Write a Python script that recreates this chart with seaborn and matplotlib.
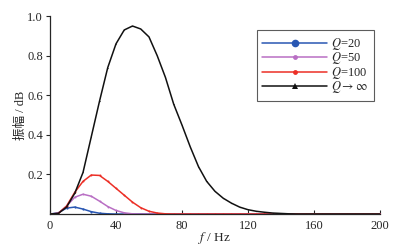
import numpy as np
import pandas as pd
import seaborn as sns
import matplotlib.pyplot as plt

# frequency axis (Hz), values every 5 Hz
freq = list(range(0, 205, 5))

amp_q20 = [0, 0.006, 0.03, 0.035, 0.025, 0.012, 0.004, 0.001] + [0] * 33
amp_q50 = [0, 0.004, 0.04, 0.085, 0.1, 0.09, 0.065, 0.038, 0.018, 0.006, 0.001] + [0] * 30
amp_q100 = [0, 0.003, 0.04, 0.11, 0.165, 0.197, 0.195, 0.165, 0.13, 0.095, 0.06,
            0.032, 0.014, 0.005, 0.001] + [0] * 26
amp_qinf = [0, 0.003, 0.035, 0.105, 0.21, 0.39, 0.57, 0.74, 0.86, 0.93, 0.95,
            0.935, 0.895, 0.80, 0.69, 0.555, 0.45, 0.34, 0.24, 0.165, 0.115,
            0.08, 0.055, 0.035, 0.022, 0.014, 0.009, 0.005, 0.003, 0.001] + [0] * 11

labels = [r"$Q$=20", r"$Q$=50", r"$Q$=100", r"$Q$$\rightarrow\infty$"]
series = [amp_q20, amp_q50, amp_q100, amp_qinf]
colors = ["#2957b3", "#b96fc4", "#ec2f26", "#111111"]
markers = ["o", "o", "o", "^"]
msizes = [1.6, 1.4, 1.4, 0.8]
legend_ms = [5.5, 3.5, 3.5, 4]

sns.set_style("ticks")
plt.rcParams['font.family'] = ['Liberation Serif', 'Noto Sans CJK SC']
plt.rcParams['mathtext.fontset'] = 'stix'

fig = plt.figure(figsize=(3.94, 2.48), dpi=100)
ax = fig.add_axes([0.127, 0.137, 0.837, 0.798])

for lab, vals, c, m, ms in zip(labels, series, colors, markers, msizes):
    df = pd.DataFrame({'f': freq, 'amp': vals})
    sns.lineplot(data=df, x='f', y='amp', ax=ax, color=c, lw=1.1,
                 marker=m, markersize=ms, markeredgewidth=0, markevery=1,
                 label=lab)

ax.set_xlim(0, 200)
ax.set_ylim(0, 1.0)
ax.set_xticks([0, 40, 80, 120, 160, 200])
ax.set_yticks([0.2, 0.4, 0.6, 0.8, 1.0])
ax.set_yticklabels(["0.2", "0.4", "0.6", "0.8", "1.0"])
ax.tick_params(axis='x', direction='in', length=3, width=0.8, labelsize=9, pad=4)
ax.tick_params(axis='y', direction='out', length=3, width=0.8, labelsize=9, pad=2)
for s in ['top', 'right']:
    ax.spines[s].set_visible(False)
for s in ['left', 'bottom']:
    ax.spines[s].set_linewidth(0.9)

ax.set_xlabel(r"$f$ / Hz", fontsize=9.5, labelpad=-1)
ax.set_ylabel("振幅 / dB", fontsize=9)
ax.yaxis.set_label_coords(-0.07, 0.5)

handles, _ = ax.get_legend_handles_labels()
leg = ax.legend(handles, labels, loc='upper right', bbox_to_anchor=(1.0, 0.96),
                fontsize=9, frameon=True, fancybox=False, edgecolor='#333333',
                handlelength=5.2, numpoints=1, borderpad=0.45, labelspacing=-0.12,
                handletextpad=0.3)
leg.get_frame().set_linewidth(0.8)
for h, ms in zip(leg.legend_handles, legend_ms):
    h.set_markersize(ms)

fig.savefig("out.png", dpi=100)
